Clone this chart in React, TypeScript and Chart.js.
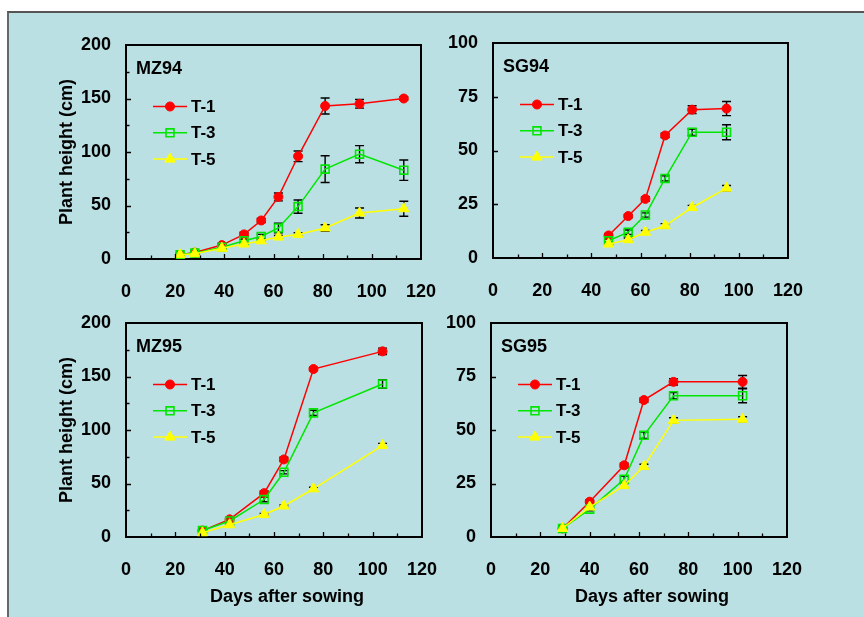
import React, { useEffect, useRef } from 'react';
import { Chart, registerables } from 'chart.js';

Chart.register(...registerables);

// ---- Data: days after sowing and plant height (cm), mean ± error ----
const MZ94_DAYS = [22, 28, 39, 48, 55, 62, 70, 81, 95, 113];
const MZ94_T1 = [4, 6, 13, 23, 36, 58, 96, 143, 145, 150];
const MZ94_T1_ERR = [1, 1, 1.5, 2, 2, 3.7, 5, 7.5, 4, 1.5];
const MZ94_T3 = [4, 5.5, 11, 17, 21, 29, 49, 84, 98, 83];
const MZ94_T3_ERR = [1, 1, 1, 1.5, 2, 4.4, 6.2, 12.5, 8, 9.5];
const MZ94_T5 = [4, 5, 10, 14, 17, 20.5, 23, 29, 43, 47];
const MZ94_T5_ERR = [1, 1, 1, 1, 1.5, 1.5, 1.5, 3, 4.7, 7];

const SG94_DAYS = [47, 55, 62, 70, 81, 95];
const SG94_T1 = [10.5, 19.5, 27.5, 57, 69, 69.5];
const SG94_T1_ERR = [0.8, 0.8, 1, 1, 1.8, 3.3];
const SG94_T3 = [8, 12, 20, 37, 58.5, 58.5];
const SG94_T3_ERR = [0.8, 1, 1, 1.2, 1.5, 3.5];
const SG94_T5 = [6.5, 8.5, 12, 15, 23.5, 32.5];
const SG94_T5_ERR = [0.8, 0.8, 0.8, 1, 1, 1.2];

const MZ95_DAYS = [31, 42, 56, 64, 76, 104];
const MZ95_T1 = [6, 16.5, 41, 72.5, 157, 173.5];
const MZ95_T1_ERR = [1, 1.5, 2, 2, 1.5, 3];
const MZ95_T3 = [6, 15, 35, 60.5, 116, 143];
const MZ95_T3_ERR = [1, 1, 2, 1.5, 2.5, 4];
const MZ95_T5 = [4, 11.5, 21, 29, 45, 85.5];
const MZ95_T5_ERR = [1, 1, 1, 1, 1.5, 2];

const SG95_DAYS = [29, 40, 54, 62, 74, 102];
const SG95_T1 = [4, 16.5, 33.5, 64, 72.5, 72.5];
const SG95_T1_ERR = [0.6, 0.8, 1, 1, 1.5, 3];
const SG95_T3 = [4, 13, 27, 47.5, 66, 66];
const SG95_T3_ERR = [0.6, 0.8, 1.5, 1.5, 1.5, 3.3];
const SG95_T5 = [4, 14, 24, 33, 54.5, 55];
const SG95_T5_ERR = [0.6, 0.8, 1, 1, 1.2, 1.2];

const TREATMENTS = ['T-1', 'T-3', 'T-5'];
const X_MAX = 120;
const X_STEP = 20;

// ---- Styling ----
const FONT = '"Liberation Sans", Arial, Helvetica, sans-serif';
const BG = '#BBE0E3';
const SERIES_STYLE = [
  { color: '#FF0000', pointStyle: 'circle', radius: 4.5, fill: true },
  { color: '#00E600', pointStyle: 'rect', radius: 5.6, fill: false },
  { color: '#FFFF00', pointStyle: 'triangle', radius: 6, fill: true },
];

// Fixed sizes around each plot area inside its canvas
const YW = 90; // y-axis band width
const PT = 32; // padding above plot
const PR = 48; // padding right of plot
const XH = 75; // x-axis band height

// Page geometry of the framed box
const PAGE_W = 864;
const PAGE_H = 617;
const BOX_X = 7;
const BOX_Y = 11;
const BOX_BORDER = 2;
const ORIGIN_X = BOX_X + BOX_BORDER;
const ORIGIN_Y = BOX_Y + BOX_BORDER;

type Area = { L: number; T: number; R: number; B: number };

type PanelProps = {
  name: string;
  days: number[];
  values: number[][];
  errors: number[][];
  yMax: number;
  yStep: number;
  yMinor: number | null;
  yTitle: boolean;
  xTitle: boolean;
  area: Area;
};

function markerPath(ctx: CanvasRenderingContext2D, style: string, r: number, x: number, y: number) {
  ctx.beginPath();
  if (style === 'circle') {
    ctx.arc(x, y, r, 0, Math.PI * 2);
  } else if (style === 'rect') {
    const s = r * Math.SQRT1_2;
    ctx.rect(x - s, y - s, 2 * s, 2 * s);
  } else {
    let a = 0;
    ctx.moveTo(x + Math.sin(a) * r, y - Math.cos(a) * r);
    a += (2 * Math.PI) / 3;
    ctx.lineTo(x + Math.sin(a) * r, y - Math.cos(a) * r);
    a += (2 * Math.PI) / 3;
    ctx.lineTo(x + Math.sin(a) * r, y - Math.cos(a) * r);
    ctx.closePath();
  }
}

function Panel(props: PanelProps) {
  const ref = useRef<HTMLCanvasElement | null>(null);
  const { area } = props;
  const width = area.R - area.L + YW + PR;
  const height = area.B - area.T + PT + XH;

  useEffect(() => {
    const canvas = ref.current;
    if (!canvas) return;

    const datasets = props.values.map((vals, si) => {
      const st = SERIES_STYLE[si];
      return {
        label: TREATMENTS[si],
        data: props.days.map((d, i) => ({ x: d, y: vals[i] })),
        errors: props.errors[si],
        borderColor: st.color,
        backgroundColor: st.fill ? st.color : 'rgba(0,0,0,0)',
        borderWidth: 1.5,
        pointStyle: st.pointStyle,
        pointRadius: st.radius,
        pointBorderColor: st.color,
        pointBackgroundColor: st.fill ? st.color : 'rgba(0,0,0,0)',
        pointBorderWidth: st.fill ? 1 : 1.6,
        tension: 0,
        order: 3 - si,
      };
    });

    const decor = {
      id: 'panelDecor',
      beforeDatasetsDraw(chart: any) {
        const { ctx } = chart;
        const xs = chart.scales.x;
        const ys = chart.scales.y;
        ctx.save();
        ctx.strokeStyle = '#000';
        ctx.lineWidth = 1.4;
        chart.data.datasets.forEach((ds: any) => {
          ds.data.forEach((p: any, i: number) => {
            const e = ds.errors[i];
            const px = xs.getPixelForValue(p.x);
            const y1 = ys.getPixelForValue(p.y + e);
            const y2 = ys.getPixelForValue(p.y - e);
            ctx.beginPath();
            ctx.moveTo(px, y1);
            ctx.lineTo(px, y2);
            ctx.moveTo(px - 4.5, y1);
            ctx.lineTo(px + 4.5, y1);
            ctx.moveTo(px - 4.5, y2);
            ctx.lineTo(px + 4.5, y2);
            ctx.stroke();
          });
        });
        ctx.restore();
      },
      afterDraw(chart: any) {
        const { ctx, chartArea: ca } = chart;
        const xs = chart.scales.x;
        const ys = chart.scales.y;
        ctx.save();
        // top and right frame lines
        ctx.strokeStyle = '#000';
        ctx.lineWidth = 2;
        ctx.beginPath();
        ctx.moveTo(ca.left - 1, ca.top);
        ctx.lineTo(ca.right, ca.top);
        ctx.lineTo(ca.right, ca.bottom);
        ctx.stroke();

        // inward tick marks
        ctx.lineWidth = 1.3;
        ctx.beginPath();
        for (let v = 10; v < X_MAX; v += 10) {
          const px = Math.round(xs.getPixelForValue(v)) + 0.5;
          const len = v % X_STEP === 0 ? 5 : 3.5;
          ctx.moveTo(px, ca.bottom);
          ctx.lineTo(px, ca.bottom - len);
        }
        const yInc = props.yMinor ?? props.yStep;
        for (let v = yInc; v < props.yMax - 1e-6; v += yInc) {
          const py = Math.round(ys.getPixelForValue(v)) + 0.5;
          const major = Math.abs(v / props.yStep - Math.round(v / props.yStep)) < 1e-6;
          const len = major ? 5 : 3.5;
          ctx.moveTo(ca.left, py);
          ctx.lineTo(ca.left + len, py);
        }
        ctx.stroke();

        // panel name
        ctx.fillStyle = '#000';
        ctx.font = `bold 18px ${FONT}`;
        ctx.textAlign = 'left';
        ctx.textBaseline = 'alphabetic';
        ctx.fillText(props.name, ca.left + 10, ca.top + 28.5);

        // legend
        ctx.font = `bold 17px ${FONT}`;
        ctx.textBaseline = 'middle';
        TREATMENTS.forEach((label, si) => {
          const st = SERIES_STYLE[si];
          const ly = ca.top + 61.5 + si * 26.3;
          ctx.strokeStyle = st.color;
          ctx.lineWidth = 1.5;
          ctx.beginPath();
          ctx.moveTo(ca.left + 27, ly);
          ctx.lineTo(ca.left + 61, ly);
          ctx.stroke();
          markerPath(ctx, st.pointStyle, st.radius, ca.left + 44, ly);
          ctx.fillStyle = st.fill ? st.color : 'rgba(0,0,0,0)';
          ctx.fill();
          ctx.lineWidth = st.fill ? 1 : 1.6;
          ctx.stroke();
          ctx.fillStyle = '#000';
          ctx.fillText(label, ca.left + 65, ly + 1);
        });

        // x-axis title
        if (props.xTitle) {
          ctx.font = `bold 18px ${FONT}`;
          ctx.textAlign = 'center';
          ctx.textBaseline = 'alphabetic';
          ctx.fillText('Days after sowing', (ca.left + ca.right) / 2 + 13, ca.bottom + 65);
        }
        ctx.restore();
      },
    };

    const chart = new Chart(canvas, {
      type: 'line',
      data: { datasets: datasets as any },
      options: {
        animation: false,
        responsive: false,
        maintainAspectRatio: false,
        layout: { padding: { left: 0, top: PT, right: PR, bottom: 0 } },
        plugins: { legend: { display: false }, tooltip: { enabled: false } },
        scales: {
          x: {
            type: 'linear',
            min: 0,
            max: X_MAX,
            grid: { display: false, drawTicks: false },
            border: { display: true, color: '#000', width: 2 },
            ticks: {
              stepSize: X_STEP,
              autoSkip: false,
              padding: 22,
              color: '#000',
              font: { family: FONT, size: 18, weight: 'bold' },
            },
            afterFit(scale: any) {
              scale.height = XH;
            },
          },
          y: {
            type: 'linear',
            min: 0,
            max: props.yMax,
            grid: { display: false, drawTicks: false },
            border: { display: true, color: '#000', width: 2 },
            ticks: {
              stepSize: props.yStep,
              padding: 15,
              color: '#000',
              font: { family: FONT, size: 18, weight: 'bold' },
            },
            title: {
              display: props.yTitle,
              text: 'Plant height (cm)',
              color: '#000',
              font: { family: FONT, size: 18, weight: 'bold', lineHeight: 1.2 },
              padding: { top: 20, bottom: 0 },
            },
            afterFit(scale: any) {
              scale.width = YW;
            },
          },
        },
      } as any,
      plugins: [decor],
    });

    return () => chart.destroy();
  }, []);

  return (
    <canvas
      ref={ref}
      width={width}
      height={height}
      style={{
        position: 'absolute',
        left: area.L - YW - ORIGIN_X,
        top: area.T - PT - ORIGIN_Y,
        width,
        height,
      }}
    />
  );
}

export default function App() {
  useEffect(() => {
    document.documentElement.style.overflow = 'hidden';
    document.body.style.margin = '0';
  }, []);

  return (
    <div
      style={{
        width: PAGE_W,
        height: PAGE_H,
        boxSizing: 'border-box',
        paddingLeft: BOX_X,
        paddingTop: BOX_Y,
        background: '#fff',
        overflow: 'hidden',
      }}
    >
      <div
        style={{
          position: 'relative',
          width: PAGE_W - BOX_X,
          height: PAGE_H - BOX_Y,
          boxSizing: 'border-box',
          background: BG,
          borderLeft: `${BOX_BORDER}px solid #5f6b6b`,
          borderTop: `${BOX_BORDER}px solid #555`,
        }}
      >
        <Panel
          name="MZ94"
          days={MZ94_DAYS}
          values={[MZ94_T1, MZ94_T3, MZ94_T5]}
          errors={[MZ94_T1_ERR, MZ94_T3_ERR, MZ94_T5_ERR]}
          yMax={200}
          yStep={50}
          yMinor={25}
          yTitle={true}
          xTitle={false}
          area={{ L: 126, T: 45, R: 421, B: 259 }}
        />
        <Panel
          name="SG94"
          days={SG94_DAYS}
          values={[SG94_T1, SG94_T3, SG94_T5]}
          errors={[SG94_T1_ERR, SG94_T3_ERR, SG94_T5_ERR]}
          yMax={100}
          yStep={25}
          yMinor={null}
          yTitle={false}
          xTitle={false}
          area={{ L: 493, T: 43, R: 788, B: 258 }}
        />
        <Panel
          name="MZ95"
          days={MZ95_DAYS}
          values={[MZ95_T1, MZ95_T3, MZ95_T5]}
          errors={[MZ95_T1_ERR, MZ95_T3_ERR, MZ95_T5_ERR]}
          yMax={200}
          yStep={50}
          yMinor={25}
          yTitle={true}
          xTitle={true}
          area={{ L: 126, T: 323, R: 422, B: 537 }}
        />
        <Panel
          name="SG95"
          days={SG95_DAYS}
          values={[SG95_T1, SG95_T3, SG95_T5]}
          errors={[SG95_T1_ERR, SG95_T3_ERR, SG95_T5_ERR]}
          yMax={100}
          yStep={25}
          yMinor={null}
          yTitle={false}
          xTitle={true}
          area={{ L: 491, T: 323, R: 787, B: 537 }}
        />
      </div>
    </div>
  );
}
